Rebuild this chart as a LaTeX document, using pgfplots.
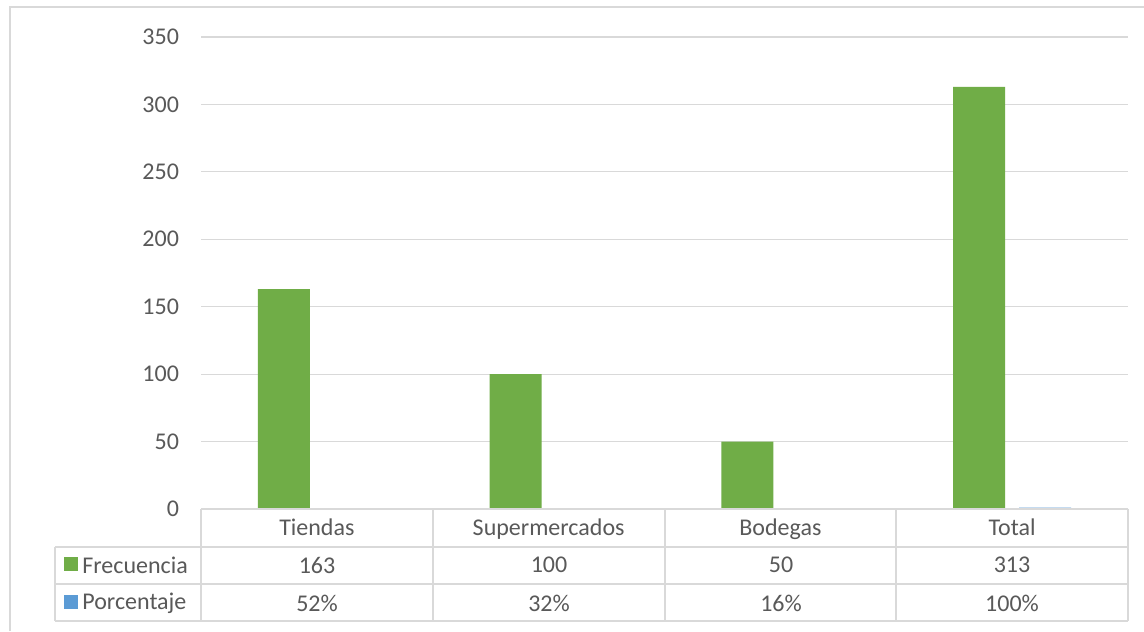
\documentclass[border=0pt]{standalone}
\usepackage{pgfplots}
\pgfplotsset{compat=1.18}
\usepackage{fontspec}
\setmainfont{Carlito}
\definecolor{fgreen}{HTML}{70AD47}
\definecolor{pblue}{HTML}{5B9BD5}
\definecolor{txt}{HTML}{595959}
\definecolor{gridc}{HTML}{D9D9D9}
\begin{document}
\begin{tikzpicture}[x=0.5pt,y=0.5pt]
\useasboundingbox (0,0) rectangle (1144,631);
\fill[white] (0,0) rectangle (1144,631);
\draw[gridc, line width=0.75pt] (10,0) -- (10,624) -- (1144,624);
\begin{axis}[at={(100.5pt,61pt)}, anchor=south west, scale only axis,
 width=463.5pt, height=236pt,
 xmin=-0.5, xmax=3.5, ymin=0, ymax=350, ytick={0,50,...,350},
 xtick={0,1,2,3}, xticklabels={Tiendas,Supermercados,Bodegas,Total},
 axis line style={draw=none}, major tick length=0pt,
 ymajorgrids, grid style={gridc, line width=0.6pt},
 tick label style={font=\fontsize{12}{14}\selectfont, text=txt},
 /pgf/number format/assume math mode=true,
 yticklabel style={xshift=-7.5pt},
 xticklabel style={anchor=base, yshift=-13pt},
 clip=false]
\addplot[ybar, bar width=0.2244, bar shift=-0.1424, fill=fgreen, draw=none]
  coordinates {(0,163) (1,100) (2,50) (3,313)};
\addplot[ybar, bar width=0.2244, bar shift=0.1424, fill=pblue, draw=none]
  coordinates {(0,0.52) (1,0.32) (2,0.16) (3,1.00)};
\end{axis}
\begin{scope}[gridc, line width=0.8pt]
\draw (201,122) -- (1128,122);
\foreach \x in {201,433,665,896,1128} \draw (\x,122) -- (\x,10);
\foreach \y in {84,47,10} \draw (55,\y) -- (1128,\y);
\draw (55,84) -- (55,10);
\end{scope}
\begin{scope}[every node/.style={font=\fontsize{12}{14}\selectfont, text=txt, inner sep=0pt}]
\fill[fgreen] (64,60) rectangle (78,74);
\fill[pblue] (64,22) rectangle (78,36);
\node[anchor=west] at (82,66) {Frecuencia};
\node[anchor=west] at (82,28) {Porcentaje};
\node at (317,66) {163};
\node at (549,66) {100};
\node at (781,66) {50};
\node at (1012,66) {313};
\node at (317,28) {52\%};
\node at (549,28) {32\%};
\node at (781,28) {16\%};
\node at (1012,28) {100\%};
\end{scope}
\end{tikzpicture}
\end{document}
